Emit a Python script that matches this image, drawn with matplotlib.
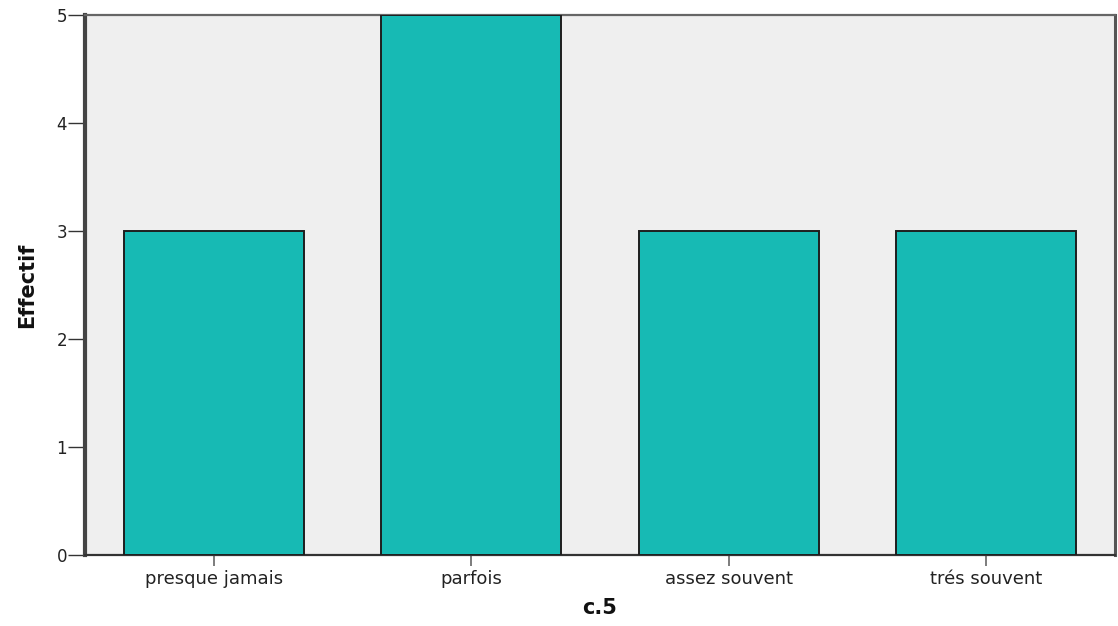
import matplotlib
matplotlib.use("Agg")
import matplotlib.pyplot as plt

categories = ["presque jamais", "parfois", "assez souvent", "trés souvent"]
counts = [3, 5, 3, 3]
y_ticks = [0, 1, 2, 3, 4, 5]

fig = plt.figure(figsize=(11.18, 6.26), dpi=100)
ax = fig.add_axes([85 / 1118, 71 / 626, 1030 / 1118, 540 / 626])
ax.set_facecolor("#efefef")

ax.bar(range(len(categories)), counts, width=0.7,
       color="#17bab4", edgecolor="#1e1e1e", linewidth=1.4, zorder=3)

ax.set_xlim(-0.5, len(categories) - 0.5)
ax.set_ylim(0, 5)
ax.set_yticks(y_ticks)
ax.set_yticklabels([str(t) for t in y_ticks])
ax.set_xticks(range(len(categories)))
ax.set_xticklabels(categories)

ax.tick_params(axis="y", length=12, width=1.0, color="#333333",
               labelsize=12, labelcolor="#222222", pad=1)
ax.tick_params(axis="x", length=8, width=1.2, color="#666666",
               labelsize=13, labelcolor="#222222", pad=3)

ax.spines["left"].set_linewidth(3)
ax.spines["left"].set_color("#444444")
ax.spines["bottom"].set_linewidth(1.6)
ax.spines["bottom"].set_color("#333333")
ax.spines["top"].set_linewidth(1.6)
ax.spines["top"].set_color("#666666")
ax.spines["right"].set_linewidth(2.2)
ax.spines["right"].set_color("#555555")

ax.set_xlabel("c.5", fontsize=15, fontweight="bold", color="#111111", labelpad=7)
ax.set_ylabel("Effectif", fontsize=15, fontweight="bold", color="#111111", labelpad=14)

fig.savefig("out.png", dpi=100)
